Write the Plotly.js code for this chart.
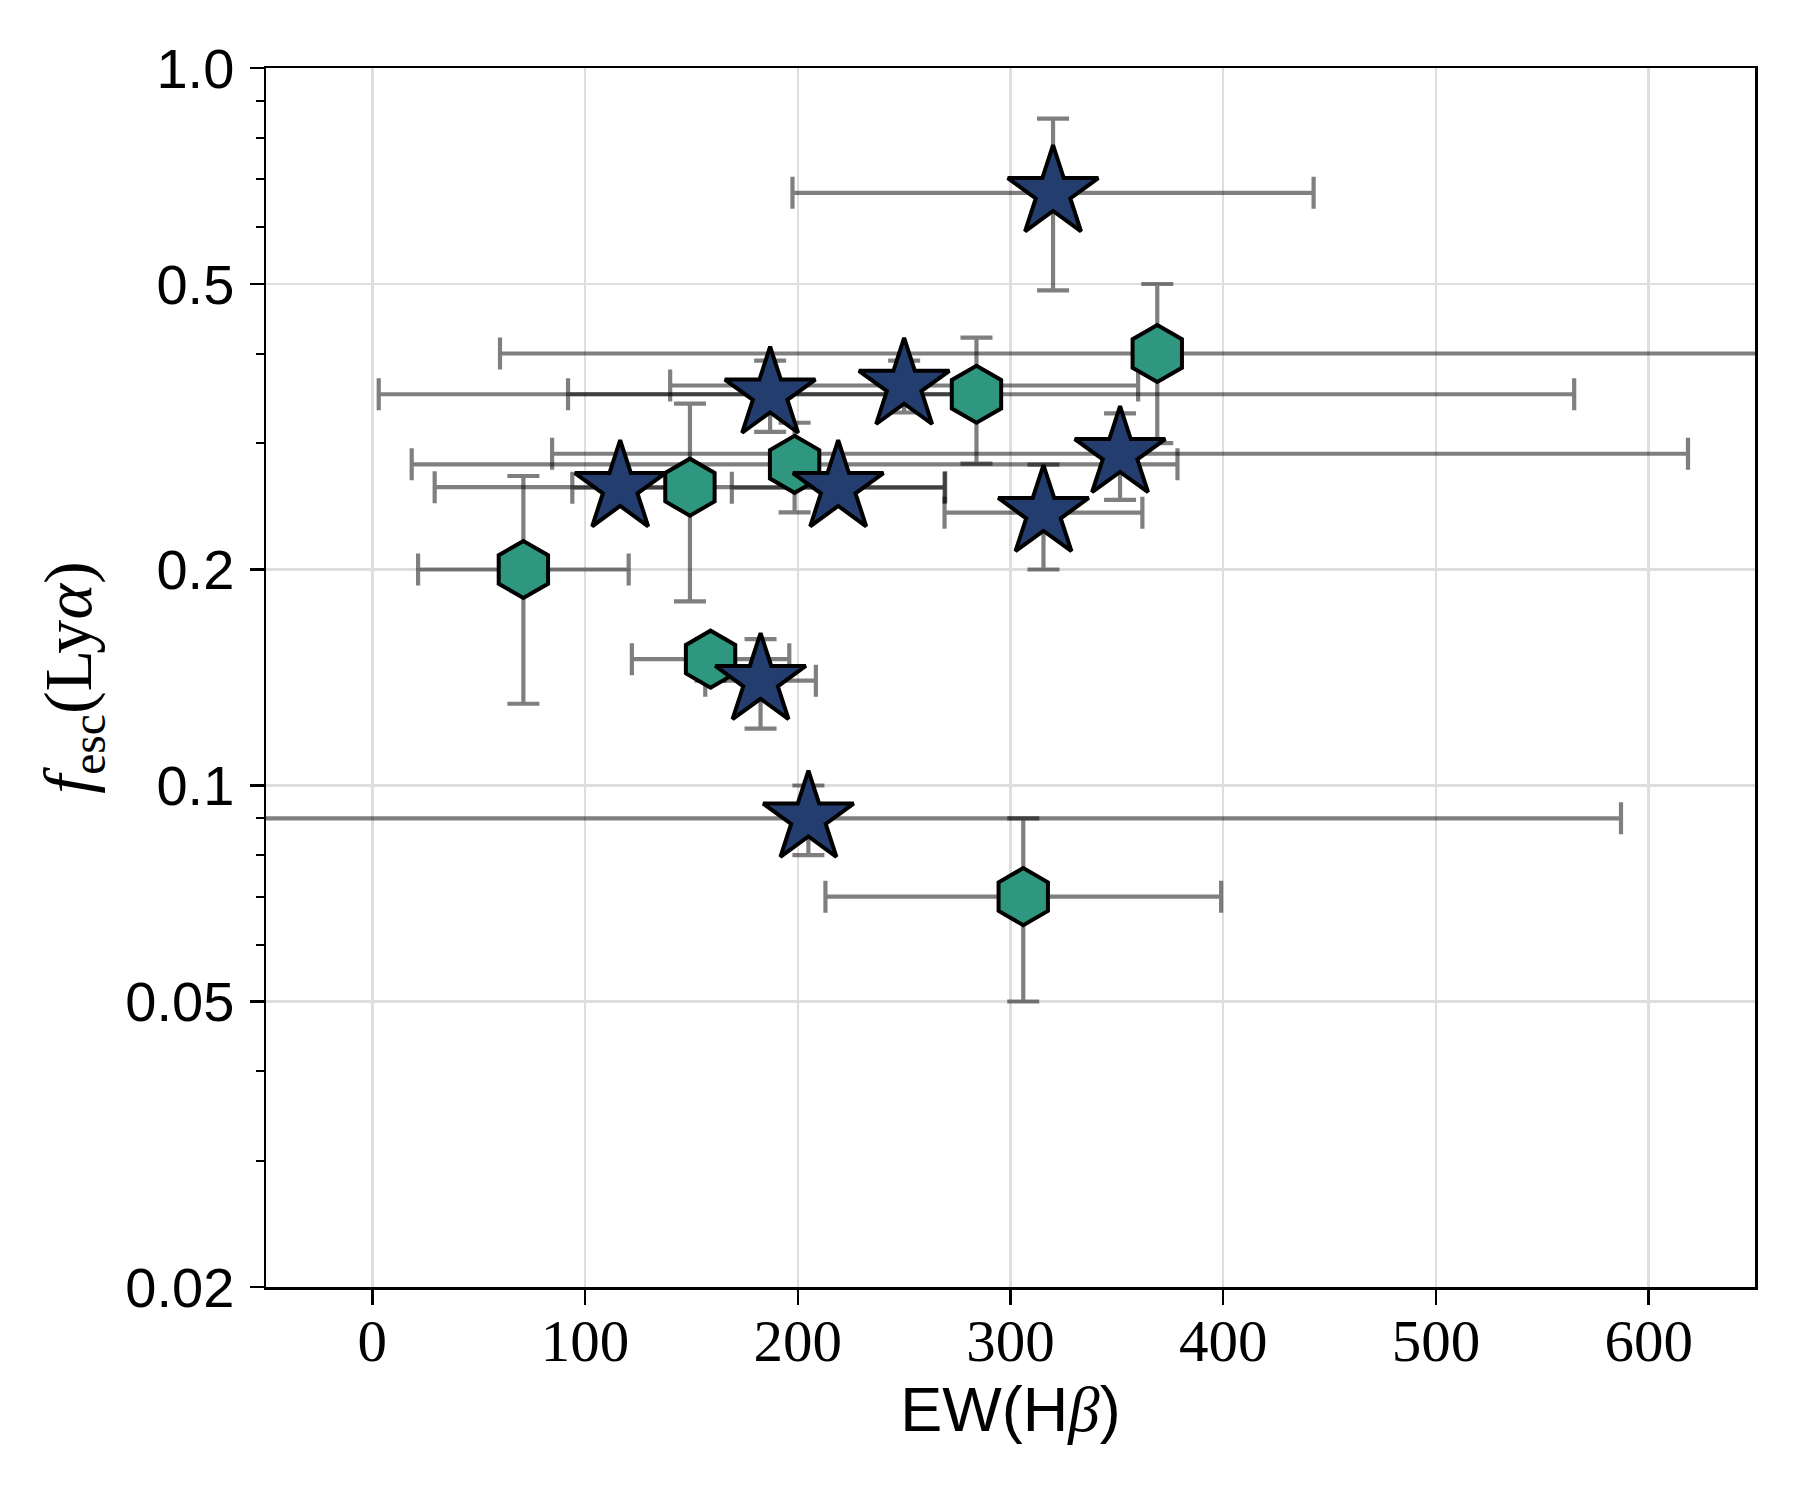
<!DOCTYPE html>
<html>
<head>
<meta charset="utf-8">
<script src="https://cdn.plot.ly/plotly-3.0.1.min.js"></script>
<style>
  body { margin: 0; background: #fff; }
  #myDiv { width: 1800px; height: 1500px; }
</style>
</head>
<body>
<div id="myDiv"></div>
<script>
// stars
var starEW      = [320, 187, 250, 116.5, 219, 315.5, 351.5, 182.5, 205];
var starFesc    = [0.67, 0.351, 0.361, 0.26, 0.26, 0.24, 0.29, 0.14, 0.09];
var starEWErr   = [122.5, 95, 110, 22.5, 50, 46.5, 267, 26, 382];
var starFescErr = [0.18, 0.04, 0.03, 0.01, 0.01, 0.04, 0.04, 0.02, 0.01];

// hexagons
var hexEW      = [71, 149.3, 198.5, 284, 369, 159, 306];
var hexFesc    = [0.2, 0.2605, 0.2803, 0.351, 0.4, 0.15, 0.07];
var hexEWErr   = [49.5, 120, 180, 281, 309, 37, 93];
var hexFescErr = [0.07, 0.08, 0.04, 0.07, 0.1, 0.01, 0.02];

var yTickVals = [0.02, 0.05, 0.1, 0.2, 0.5, 1.0];
var yTickText = ['0.02', '0.05', '0.1', '0.2', '0.5', '1.0'];
var yMinorVals = [0.03, 0.04, 0.06, 0.07, 0.08, 0.09, 0.3, 0.4, 0.6, 0.7, 0.8, 0.9];

var errColor = 'rgba(0,0,0,0.5)';

function errTrace(x, y, ex, ey) {
    return {
        x: x, y: y,
        mode: 'markers',
        type: 'scatter',
        marker: {size: 1, opacity: 0},
        error_x: {type: 'data', array: ex, color: errColor, thickness: 4.2, width: 16},
        error_y: {type: 'data', array: ey, color: errColor, thickness: 4.2, width: 16},
        hoverinfo: 'skip'
    };
}

var trace1 = errTrace(hexEW, hexFesc, hexEWErr, hexFescErr);
var trace2 = errTrace(starEW, starFesc, starEWErr, starFescErr);

var trace3 = {
    x: hexEW, y: hexFesc,
    mode: 'markers',
    type: 'scatter',
    marker: {symbol: 'hexagon', size: 57, color: '#2F977F', line: {color: '#000', width: 4}}
};

var trace4 = {
    x: starEW, y: starFesc,
    mode: 'markers',
    type: 'scatter',
    marker: {symbol: 'star', size: 68, color: '#233E6E', line: {color: '#000', width: 4}}
};

var serif = 'Liberation Serif, DejaVu Serif, serif';
var sans = 'Liberation Sans, Arial, sans-serif';

var layout = {
    width: 1800,
    height: 1500,
    showlegend: false,
    paper_bgcolor: '#fff',
    plot_bgcolor: '#fff',
    margin: {l: 266, r: 45, t: 68, b: 213},
    xaxis: {
        range: [-50, 650],
        tickmode: 'linear', tick0: 0, dtick: 100,
        ticks: 'outside', ticklen: 15, tickwidth: 2.5, tickcolor: '#000',
        tickfont: {family: serif, size: 59, color: '#000'},
        ticklabelstandoff: -14,
        showgrid: true, gridcolor: '#dedede', gridwidth: 2.5,
        zeroline: false,
        showline: true, linecolor: '#000', linewidth: 2.5, mirror: true,
        title: {
            text: 'EW(H<span style="font-family:Liberation Serif"><i>β</i></span>)',
            font: {family: sans, size: 63, color: '#000'},
            standoff: 12
        }
    },
    yaxis: {
        type: 'log',
        range: [Math.log10(0.02), 0],
        tickmode: 'array', tickvals: yTickVals, ticktext: yTickText,
        ticks: 'outside', ticklen: 14, tickwidth: 2.5, tickcolor: '#000',
        tickfont: {family: sans, size: 56, color: '#000'},
        ticklabelstandoff: 4,
        minor: {tickmode: 'array', tickvals: yMinorVals, ticks: 'outside', ticklen: 8, tickwidth: 2, tickcolor: '#000', showgrid: false},
        showgrid: true, gridcolor: '#dedede', gridwidth: 2.5,
        zeroline: false,
        showline: true, linecolor: '#000', linewidth: 2.5, mirror: true,
        title: {
            text: '<i>f</i><sub>esc</sub>(Ly<i>α</i>)',
            font: {family: serif, size: 68, color: '#000'},
            standoff: 12
        }
    }
};

Plotly.newPlot('myDiv', [trace1, trace2, trace3, trace4], layout, {staticPlot: true});
</script>
</body>
</html>
